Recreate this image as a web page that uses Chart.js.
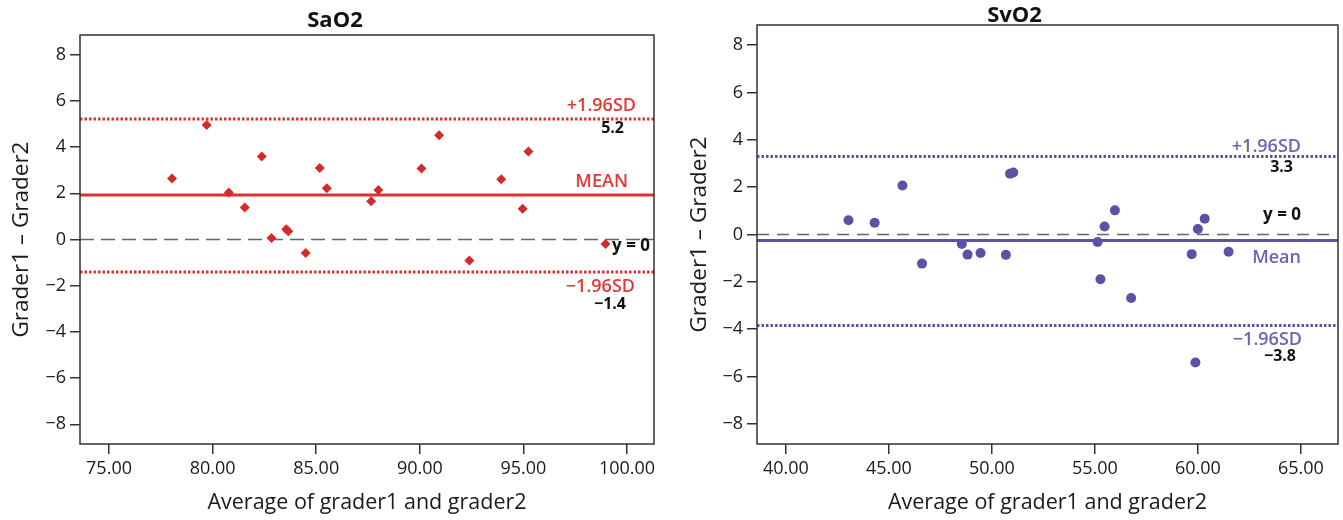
<!DOCTYPE html>
<html><head><meta charset="utf-8">
<script src="https://cdn.jsdelivr.net/npm/chart.js@4.4.0/dist/chart.umd.min.js"></script>
<style>
html,body{margin:0;padding:0;background:#fff;width:1343px;height:520px;overflow:hidden;}
canvas{position:absolute;top:0;}
#c1{left:0;}
#c2{left:686px;}
</style></head><body>
<canvas id="c1" width="670" height="520"></canvas>
<canvas id="c2" width="657" height="520"></canvas>
<script>
// ---- data ----
const saAvg  = [78.04, 79.71, 80.78, 81.55, 82.37, 82.84, 83.55, 83.65, 84.49, 85.17, 85.51, 87.65, 88.00, 90.08, 90.93, 92.39, 93.93, 94.96, 95.24, 98.96];
const saDiff = [2.64, 4.96, 2.03, 1.38, 3.59, 0.06, 0.44, 0.36, -0.58, 3.09, 2.22, 1.65, 2.14, 3.07, 4.51, -0.91, 2.61, 1.33, 3.81, -0.19];
const saMean = 1.93, saUpper = 5.22, saLower = -1.41;

const svAvg  = [43.04, 44.31, 45.66, 46.61, 48.54, 48.82, 49.45, 50.68, 50.88, 51.04, 55.13, 55.27, 55.47, 55.97, 56.76, 59.70, 59.88, 60.00, 60.33, 61.49];
const svDiff = [0.60, 0.50, 2.07, -1.23, -0.40, -0.85, -0.78, -0.86, 2.57, 2.62, -0.32, -1.89, 0.34, 1.02, -2.68, -0.83, -5.41, 0.23, 0.67, -0.73];
const svMean = -0.25, svUpper = 3.30, svLower = -3.84;

const saXTicks = [75, 80, 85, 90, 95, 100];
const svXTicks = [40, 45, 50, 55, 60, 65];
const yTicks = [-8, -6, -4, -2, 0, 2, 4, 6, 8];

const F = '"Open Sans", "Noto Sans", sans-serif';
const minus = s => String(s).replace('-', '\u2212');

const framePlugin = {
  id: 'frame',
  afterDraw(chart, args, o) {
    const {ctx, chartArea: a, scales} = chart;
    ctx.save();
    ctx.strokeStyle = '#333'; ctx.lineWidth = 1.5;
    ctx.strokeRect(a.left, a.top, a.right - a.left, a.bottom - a.top);
    ctx.font = 'bold 22px ' + F; ctx.fillStyle = '#111';
    ctx.textAlign = 'center'; ctx.textBaseline = 'middle';
    ctx.fillText(o.title, chart.width / 2, o.titleY);
    for (const L of o.labels) {
      ctx.font = L.font + ' ' + F; ctx.fillStyle = L.color;
      ctx.textAlign = 'right'; ctx.textBaseline = 'middle';
      ctx.fillText(L.text, a.right - L.dx, scales.y.getPixelForValue(L.value) + L.dy);
    }
    ctx.restore();
  }
};

function hline(v, xmin, xmax, color, width, dash) {
  return {type: 'line', data: [{x: xmin, y: v}, {x: xmax, y: v}], borderColor: color, borderWidth: width,
          borderDash: dash, pointRadius: 0, showLine: true, fill: false};
}

function build(id, c) {
  const pts = c.avg.map((v, i) => ({x: v, y: c.diff[i]}));
  new Chart(document.getElementById(id), {
    type: 'scatter',
    data: {datasets: [
      {data: pts, pointStyle: c.pointStyle, pointRadius: c.r, backgroundColor: c.ptColor, borderColor: c.ptColor, borderWidth: 0},
      hline(c.mean, c.xmin, c.xmax, c.lineColor, 3, []),
      hline(c.upper, c.xmin, c.xmax, c.lineColor, 3, [2.5, 2]),
      hline(c.lower, c.xmin, c.xmax, c.lineColor, 3, [2.5, 2]),
      hline(0, c.xmin, c.xmax, '#666', 1.5, c.zeroDash)
    ]},
    options: {
      responsive: false, animation: false, devicePixelRatio: 1,
      layout: {padding: {left: 0, right: c.padRight, top: c.padTop, bottom: 0}},
      plugins: {legend: {display: false}, tooltip: {enabled: false},
        frame: {title: c.title, titleY: c.titleY, labels: c.labels}},
      scales: {
        x: {type: 'linear', min: c.xmin, max: c.xmax,
          afterBuildTicks: s => { s.ticks = c.xticks.map(v => ({value: v})); },
          afterFit: s => { s.height = 76; },
          grid: {display: true, drawOnChartArea: false, drawTicks: true, tickLength: 10, color: '#333', lineWidth: 1.5},
          border: {display: false},
          ticks: {font: {family: F, size: 18}, color: '#1a1a1a', padding: 4, maxRotation: 0, callback: v => v.toFixed(2)},
          title: {display: true, text: 'Average of grader1 and grader2', font: {family: F, size: 21.5}, color: '#1a1a1a', padding: {top: 0, bottom: 4}}
        },
        y: {type: 'linear', min: -8.85, max: 8.85,
          afterBuildTicks: s => { s.ticks = yTicks.map(v => ({value: v})); },
          afterFit: s => { s.width = c.yWidth; },
          grid: {display: true, drawOnChartArea: false, drawTicks: true, tickLength: 10, color: '#333', lineWidth: 1.5},
          border: {display: false},
          ticks: {font: {family: F, size: 18}, color: '#1a1a1a', padding: 4, callback: v => minus(v)},
          title: {display: true, text: 'Grader1 \u2013 Grader2', font: {family: F, size: 22.5}, color: '#1a1a1a', padding: {top: c.yTitlePad, bottom: 0}}
        }
      }
    },
    plugins: [framePlugin]
  });
}

const red = '#e0302e', redTxt = '#e23a36', pur = '#5a53a6', purTxt = '#6a64b4';
build('c1', {
  avg: saAvg, diff: saDiff, mean: saMean, upper: saUpper, lower: saLower,
  xmin: 73.6, xmax: 101.3, xticks: saXTicks, pointStyle: 'rectRot', r: 5, ptColor: '#d42a2a',
  lineColor: red, zeroDash: [14, 7], padRight: 16, padTop: 35, yWidth: 80, yTitlePad: 8,
  title: 'SaO2', titleY: 21,
  labels: [
    {text: '+1.96SD', value: saUpper, dy: -13, dx: 18, color: redTxt, font: '600 18px'},
    {text: saUpper.toFixed(1), value: saUpper, dy: 10, dx: 30, color: '#111', font: 'bold 16px'},
    {text: 'MEAN', value: saMean, dy: -13, dx: 26, color: redTxt, font: '600 18px'},
    {text: 'y = 0', value: 0, dy: 7, dx: 4, color: '#111', font: 'bold 17px'},
    {text: '\u22121.96SD', value: saLower, dy: 15, dx: 19, color: redTxt, font: '600 18px'},
    {text: minus(saLower.toFixed(1)), value: saLower, dy: 32, dx: 28, color: '#111', font: 'bold 16px'}
  ]
});
build('c2', {
  avg: svAvg, diff: svDiff, mean: svMean, upper: svUpper, lower: svLower,
  xmin: 38.6, xmax: 66.8, xticks: svXTicks, pointStyle: 'circle', r: 5, ptColor: '#5a52a4',
  lineColor: pur, zeroDash: [12, 8], padRight: 1, padTop: 25, yWidth: 71, yTitlePad: 0,
  title: 'SvO2', titleY: 16,
  labels: [
    {text: '+1.96SD', value: svUpper, dy: -10, dx: 37, color: purTxt, font: '600 18px'},
    {text: svUpper.toFixed(1), value: svUpper, dy: 11, dx: 45, color: '#111', font: 'bold 16px'},
    {text: 'y = 0', value: 0, dy: -19, dx: 37, color: '#111', font: 'bold 17px'},
    {text: 'Mean', value: svMean, dy: 17, dx: 37, color: purTxt, font: '600 18px'},
    {text: '\u22121.96SD', value: svLower, dy: 14, dx: 36, color: purTxt, font: '600 18px'},
    {text: minus(svLower.toFixed(1)), value: svLower, dy: 31, dx: 42, color: '#111', font: 'bold 16px'}
  ]
});
</script>
</body></html>
